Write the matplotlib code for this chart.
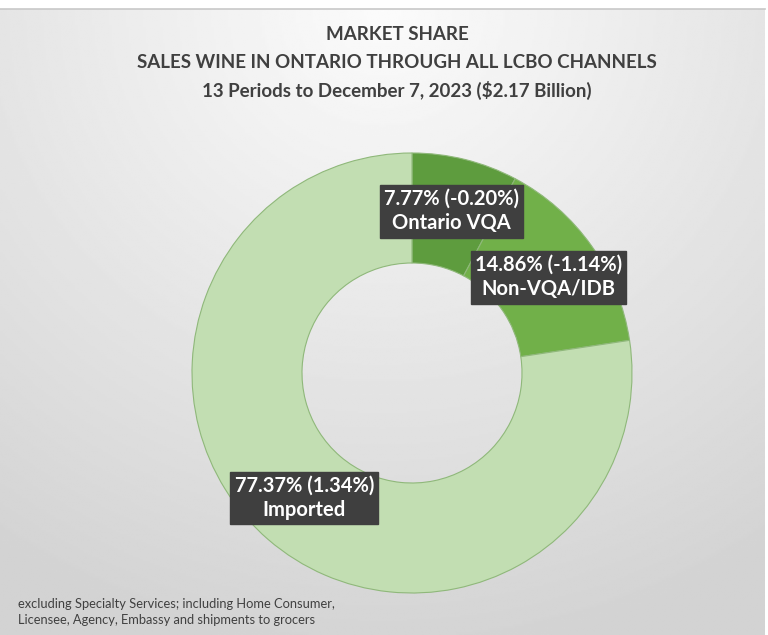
import numpy as np
import matplotlib
matplotlib.use('Agg')
import matplotlib.pyplot as plt

# data
labels = ['Ontario VQA', 'Non-VQA/IDB', 'Imported']
shares = [7.77, 14.86, 77.37]
changes = ['-0.20%', '-1.14%', '1.34%']
colors = ['#5e9c3e', '#71b049', '#c2deb2']
title_lines = ['MARKET SHARE',
               'SALES WINE IN ONTARIO THROUGH ALL LCBO CHANNELS',
               '13 Periods to December 7, 2023 ($2.17 Billion)']
footnote = 'excluding Specialty Services; including Home Consumer,\nLicensee, Agency, Embassy and shipments to grocers'

W, H = 768, 635
fig = plt.figure(figsize=(W/100, H/100), dpi=100)
fig.patch.set_facecolor('white')

# gradient background
bg = fig.add_axes([0, 0, 765/W, (H-9)/H])
yy, xx = np.mgrid[0:1:300j, 0:1:360j]
d = np.sqrt(((xx-0.5)*1.1)**2 + (yy*0.95)**2)
d = np.clip(d/1.0, 0, 1)
c = 0.985 - 0.16*d
bg.imshow(c, cmap='gray', vmin=0, vmax=1, aspect='auto', extent=[0, 1, 1, 0])
bg.set_axis_off()
fig.add_artist(plt.Line2D([0, 765/W], [(H-8.5)/H]*2, color='#c8c8c8', lw=1.2))

# donut
cx, cy, R = 412, 373, 220
ax = fig.add_axes([(cx-R)/W, (H-cy-R)/H, 2*R/W, 2*R/H])
ax.pie(shares, colors=colors, startangle=90, counterclock=False, radius=1,
       wedgeprops=dict(width=0.5, edgecolor='#8fb87a', linewidth=0.8))
ax.set_xlim(-1, 1)
ax.set_ylim(-1, 1)
ax.set_axis_off()

box = dict(boxstyle='square,pad=0.2', facecolor='#3f3f3f', edgecolor='#3f3f3f')
pos = [(0.18, 0.736), (0.62, 0.436), (-0.49, -0.568)]
for lab, s, ch, (x, y) in zip(labels, shares, changes, pos):
    ax.text(x, y, f'{s:.2f}% ({ch})\n{lab}', ha='center', va='center',
            color='white', fontsize=14.5, fontweight='bold', family='Lato',
            linespacing=1.3, bbox=box)

# titles
ys = [35, 62, 90]
for t, y in zip(title_lines, ys):
    fig.text(397/W, 1-y/H, t, ha='center', va='center', fontsize=13.5,
             fontweight='bold', family='Lato', color='#404040')

fig.text(18/W, 1-612/H, footnote, ha='left', va='center', fontsize=9.3,
         family='Lato', color='#404040', linespacing=1.4)

fig.savefig('out.png', dpi=100)
